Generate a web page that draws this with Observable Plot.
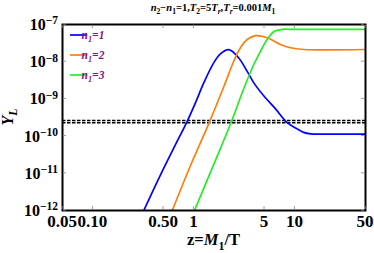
<!DOCTYPE html>
<html><head><meta charset="utf-8">
<script src="https://cdn.jsdelivr.net/npm/d3@7"></script>
<script src="https://cdn.jsdelivr.net/npm/@observablehq/plot@0.6"></script>
<style>body{margin:0;background:#fff}</style>
</head><body><div id="chart"></div>
<script>
// ---- data ----
const seriesNames = ["n1=1", "n1=2", "n1=3"];
const seriesColors = ["#0000ff", "#ff7f0e", "#22ee22"];

const zBlue = [0.319, 0.467, 0.657, 0.858, 1.06, 1.245, 1.57, 1.83, 2.22, 2.78, 3.37, 3.92, 4.89, 6.43, 8.39, 10.6, 12.2, 14.3, 20, 50];
const yBlue = [1.0e-12, 9.1e-12, 5.9e-11, 2.5e-10, 9.1e-10, 2.6e-9, 9.3e-9, 1.62e-8, 2.1e-8, 1.26e-8, 5.5e-9, 2.7e-9, 1.23e-9, 5.4e-10, 2.3e-10, 1.55e-10, 1.26e-10, 1.15e-10, 1.13e-10, 1.13e-10];

const zOrange = [0.61, 0.924, 1.435, 1.98, 2.48, 2.89, 3.37, 4.07, 5.31, 7.2, 9.05, 12.2, 50];
const yOrange = [1.0e-12, 1.6e-11, 2.5e-10, 2.15e-9, 1.03e-8, 2.37e-8, 3.95e-8, 5.0e-8, 4.4e-8, 2.9e-8, 2.37e-8, 2.13e-8, 2.13e-8];

const zGreen = [1.014, 1.53, 2.36, 3.12, 3.92, 4.57, 5.31, 6.18, 7.49, 9.05, 50];
const yGreen = [1.0e-12, 1.45e-11, 2.5e-10, 1.9e-9, 8.4e-9, 1.91e-8, 3.95e-8, 6.37e-8, 7.4e-8, 7.4e-8, 7.4e-8];

const dashedLevels = [2.62e-10, 2.28e-10];

const xTicks = [0.05, 0.1, 0.5, 1, 5, 10, 50];
const xTickLabels = ["0.05", "0.10", "0.50", "1", "5", "10", "50"];
const yExponents = [-7, -8, -9, -10, -11, -12];

// ---- build table ----
const rows = [];
[[zBlue, yBlue], [zOrange, yOrange], [zGreen, yGreen]].forEach(([zs, ys], k) => {
  zs.forEach((z, i) => rows.push({series: seriesNames[k], z, Y: ys[i]}));
});

const SERIF = "'Liberation Serif','DejaVu Serif',serif";

function rich(parent, segs, size, attrs) {
  const t = parent.append("text")
    .attr("font-family", SERIF).attr("font-weight", "bold").attr("font-size", size);
  for (const [k, v] of Object.entries(attrs || {})) t.attr(k, v);
  let shift = 0;
  for (const s of segs) {
    const want = s.sub ? size * 0.28 : s.sup ? -size * 0.36 : 0;
    const sp = t.append("tspan").text(s.t);
    if (want !== shift) { sp.attr("dy", want - shift); shift = want; }
    if (s.sub || s.sup) sp.attr("font-size", size * 0.72);
    if (s.i) sp.attr("font-style", "italic");
  }
  return t;
}

function decorations(index, scales, values, dims) {
  const g = d3.create("svg:g");
  const ml = dims.marginLeft, mr = dims.marginRight, mt = dims.marginTop, mb = dims.marginBottom;
  const x0 = ml, x1 = dims.width - mr, y0 = mt, y1 = dims.height - mb;

  // inward frame ticks
  const tk = g.append("g").attr("stroke", "#9a9a9a").attr("stroke-width", 1);
  for (const t of xTicks) {
    const xx = scales.x(t);
    tk.append("line").attr("x1", xx).attr("x2", xx).attr("y1", y0 + 1).attr("y2", y0 + 4);
    tk.append("line").attr("x1", xx).attr("x2", xx).attr("y1", y1 - 1).attr("y2", y1 - 4);
  }
  for (const e of yExponents) {
    const yy = scales.y(10 ** e);
    tk.append("line").attr("y1", yy).attr("y2", yy).attr("x1", x0 + 1).attr("x2", x0 + 4);
    tk.append("line").attr("y1", yy).attr("y2", yy).attr("x1", x1 - 1).attr("x2", x1 - 4);
  }

  // x tick labels
  xTicks.forEach((t, i) => {
    rich(g, [{t: xTickLabels[i]}], 17, {x: scales.x(t), y: y1 + 16.5, "text-anchor": "middle"});
  });

  // y tick labels 10^e
  for (const e of yExponents) {
    const yy = scales.y(10 ** e);
    rich(g, [{t: "10"}, {t: "\u2212" + (-e), sup: true}], 16,
      {x: x0 - 4, y: yy, dy: "0.38em", "text-anchor": "end"});
  }

  // title
  rich(g, [
    {t: "n", i: 1}, {t: "2", sub: 1}, {t: "\u2212"}, {t: "n", i: 1}, {t: "1", sub: 1}, {t: "=1,"},
    {t: "T", i: 1}, {t: "2", sub: 1}, {t: "=5"}, {t: "T", i: 1}, {t: "r", sub: 1, i: 1}, {t: ","},
    {t: "T", i: 1}, {t: "r", sub: 1, i: 1}, {t: "=0.001"}, {t: "M", i: 1}, {t: "1", sub: 1}
  ], 10.5, {x: 213, y: 11, "text-anchor": "middle"});

  // x label
  rich(g, [{t: "z="}, {t: "M", i: 1}, {t: "1", sub: 1}, {t: "/T"}], 16.5,
    {x: (x0 + x1) / 2, y: dims.height - 8, "text-anchor": "middle"});

  // y label
  rich(g, [{t: "Y", i: 1}, {t: "L", sub: 1, i: 1}], 16,
    {transform: `translate(13,${(y0 + y1) / 2}) rotate(-90)`, "text-anchor": "middle"});

  // legend
  seriesNames.forEach((name, k) => {
    const ly = y0 + 11 + k * 20;
    g.append("line").attr("x1", x0 + 8).attr("x2", x0 + 24).attr("y1", ly).attr("y2", ly)
      .attr("stroke", seriesColors[k]).attr("stroke-width", 1.7);
    rich(g, [{t: "n", i: 1}, {t: "1", sub: 1, i: 1}, {t: "=" + (k + 1), i: 1}], 11.5,
      {x: x0 + 31, y: ly + 3.8, fill: "#84168a"});
  });
  return g.node();
}

const chart = Plot.plot({
  width: 374,
  height: 253,
  marginLeft: 62,
  marginRight: 9,
  marginTop: 24,
  marginBottom: 43,
  style: {background: "white", fontFamily: SERIF},
  x: {type: "log", domain: [0.05, 50], axis: null},
  y: {type: "log", domain: [1e-12, 1e-7], axis: null},
  color: {domain: seriesNames, range: seriesColors},
  marks: [
    Plot.ruleY(dashedLevels, {y: d => d, stroke: "black", strokeWidth: 1.5, strokeDasharray: "3.5,1.5"}),
    Plot.line(rows, {x: "z", y: "Y", z: "series", stroke: "series", strokeWidth: 1.7, curve: "catmull-rom", clip: true}),
    Plot.frame({stroke: "black", strokeWidth: 2}),
    decorations
  ]
});
document.getElementById("chart").append(chart);
</script>
</body></html>
